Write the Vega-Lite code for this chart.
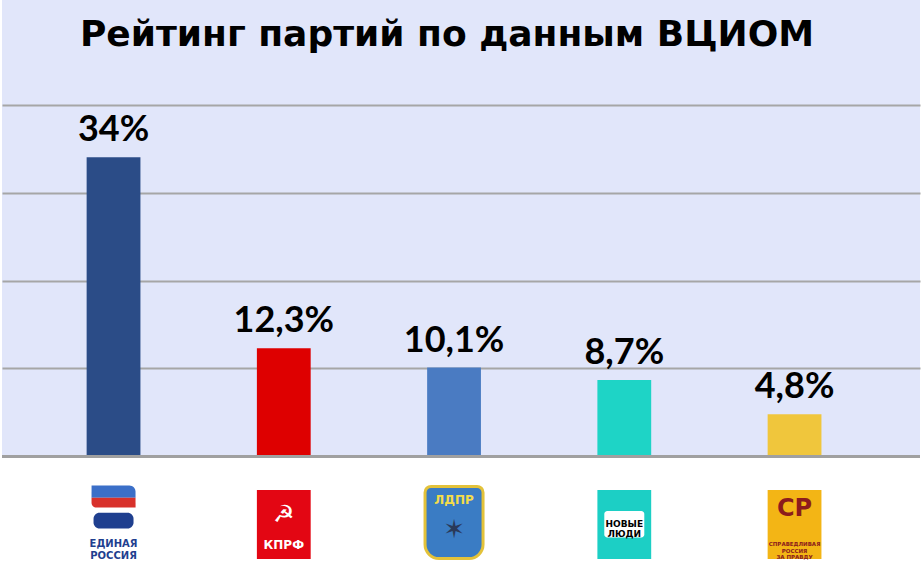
{
  "$schema": "https://vega.github.io/schema/vega-lite/v6.json",
  "width": 922,
  "height": 572,
  "autosize": {"type": "fit", "contains": "padding"},
  "padding": 0,
  "background": "white",
  "config": {
    "view": {"stroke": null, "fill": "#e1e6fa"},
    "locale": {"number": {"decimal": ",", "thousands": " ", "grouping": [3], "currency": ["", " ₽"]}},
    "text": {"lineBreak": "\n"}
  },
  "data": {
    "values": [
      {"party": "Единая Россия", "share": 0.34},
      {"party": "КПРФ", "share": 0.123},
      {"party": "ЛДПР", "share": 0.101},
      {"party": "Новые люди", "share": 0.087},
      {"party": "Справедливая Россия", "share": 0.048}
    ]
  },
  "encoding": {
    "x": {
      "field": "party",
      "type": "nominal",
      "sort": null,
      "scale": {"paddingInner": 0.684, "paddingOuter": 0.538, "align": 0.462},
      "axis": null
    }
  },
  "layer": [
    {
      "mark": {"type": "rect", "fill": "white"},
      "encoding": {
        "x": null,
        "y": {"datum": -0.1313, "type": "quantitative", "scale": {"domain": [-0.1313, 0.5188], "nice": false, "zero": false},
          "axis": {"values": [0.1, 0.2, 0.3, 0.4], "grid": true, "gridColor": "#a6a6a6", "gridWidth": 2, "gridOpacity": 1, "labels": false, "ticks": false, "domain": false, "title": null}},
        "y2": {"datum": 0}
      }
    },
    {
      "mark": {"type": "bar"},
      "encoding": {
        "y": {"field": "share", "type": "quantitative"},
        "y2": {"datum": 0},
        "color": {
          "field": "party",
          "type": "nominal",
          "scale": {
            "domain": ["Единая Россия", "КПРФ", "ЛДПР", "Новые люди", "Справедливая Россия"],
            "range": ["#2b4c87", "#de0000", "#4a7bc2", "#1ed4c6", "#f0c63c"]
          },
          "legend": null
        }
      }
    },
    {
      "mark": {"type": "rule", "color": "#a0a0a0", "strokeWidth": 2.5},
      "encoding": {"x": null, "y": {"datum": 0}}
    },
    {
      "mark": {"type": "text", "font": "Lato", "fontSize": 36, "fontWeight": "bold", "color": "black", "baseline": "alphabetic", "dy": -16},
      "encoding": {
        "y": {"field": "share", "type": "quantitative"},
        "text": {"field": "share", "type": "quantitative", "format": ".3~%"}
      }
    },
    {
      "transform": [{"filter": "datum.party === 'ЛДПР'"}],
      "mark": {"type": "text", "font": "DejaVu Sans", "fontSize": 36, "fontWeight": "bold", "color": "black", "baseline": "alphabetic", "align": "center", "dx": -7},
      "encoding": {
        "y": {"datum": 0.4665},
        "text": {"value": "Рейтинг партий по данным ВЦИОМ"}
      }
    },
    {
      "transform": [{"filter": "datum.party === 'Единая Россия'"}],
      "layer": [
        {"mark": {"type": "bar", "width": 44, "color": "#3b6fc8", "cornerRadiusTopRight": 10}, "encoding": {"y": {"datum": -0.033}, "y2": {"datum": -0.047}}},
        {"mark": {"type": "bar", "width": 44, "color": "#d8312b", "cornerRadiusBottomLeft": 10}, "encoding": {"y": {"datum": -0.047}, "y2": {"datum": -0.058}}},
        {"mark": {"type": "bar", "width": 40, "color": "#1f3f8f", "cornerRadius": 6}, "encoding": {"y": {"datum": -0.064}, "y2": {"datum": -0.082}}},
        {"mark": {"type": "text", "font": "DejaVu Sans", "fontSize": 10, "fontWeight": "bold", "color": "#1f3f8f", "baseline": "middle", "lineHeight": 12},
          "encoding": {"y": {"datum": -0.1}, "text": {"value": "ЕДИНАЯ\nРОССИЯ"}}}
      ]
    },
    {
      "transform": [{"filter": "datum.party === 'КПРФ'"}],
      "layer": [
        {"mark": {"type": "bar", "color": "#e30613"}, "encoding": {"y": {"datum": -0.038}, "y2": {"datum": -0.1165}}},
        {"mark": {"type": "text", "font": "DejaVu Sans", "fontSize": 24, "color": "white", "baseline": "middle"},
          "encoding": {"y": {"datum": -0.066}, "text": {"value": "☭"}}},
        {"mark": {"type": "text", "font": "DejaVu Sans", "fontSize": 12, "fontWeight": "bold", "color": "white", "baseline": "middle"},
          "encoding": {"y": {"datum": -0.101}, "text": {"value": "КПРФ"}}}
      ]
    },
    {
      "transform": [{"filter": "datum.party === 'ЛДПР'"}],
      "layer": [
        {"mark": {"type": "bar", "width": 58, "color": "#3a7cc4", "stroke": "#e3c23a", "strokeWidth": 3, "cornerRadiusBottomLeft": 14, "cornerRadiusBottomRight": 14, "cornerRadiusTopLeft": 6, "cornerRadiusTopRight": 6},
          "encoding": {"y": {"datum": -0.034}, "y2": {"datum": -0.116}}},
        {"mark": {"type": "text", "font": "DejaVu Sans", "fontSize": 12, "fontWeight": "bold", "color": "#f3dc4a", "baseline": "middle"},
          "encoding": {"y": {"datum": -0.05}, "text": {"value": "ЛДПР"}}},
        {"mark": {"type": "text", "font": "DejaVu Sans", "fontSize": 26, "color": "#2a3a5a", "baseline": "middle"},
          "encoding": {"y": {"datum": -0.083}, "text": {"value": "✶"}}}
      ]
    },
    {
      "transform": [{"filter": "datum.party === 'Новые люди'"}],
      "layer": [
        {"mark": {"type": "bar", "color": "#1ccfc5"}, "encoding": {"y": {"datum": -0.038}, "y2": {"datum": -0.1165}}},
        {"mark": {"type": "bar", "width": 40, "color": "white", "cornerRadius": 3}, "encoding": {"y": {"datum": -0.062}, "y2": {"datum": -0.092}}},
        {"mark": {"type": "text", "font": "DejaVu Sans", "fontSize": 9, "fontWeight": "bold", "color": "black", "baseline": "middle", "lineHeight": 10},
          "encoding": {"y": {"datum": -0.077}, "text": {"value": "НОВЫЕ\nЛЮДИ"}}}
      ]
    },
    {
      "transform": [{"filter": "datum.party === 'Справедливая Россия'"}],
      "layer": [
        {"mark": {"type": "bar", "color": "#f3b515"}, "encoding": {"y": {"datum": -0.038}, "y2": {"datum": -0.1165}}},
        {"mark": {"type": "text", "font": "DejaVu Sans", "fontSize": 24, "fontWeight": "bold", "color": "#8c1c1c", "baseline": "middle"},
          "encoding": {"y": {"datum": -0.06}, "text": {"value": "СР"}}},
        {"mark": {"type": "text", "font": "DejaVu Sans", "fontSize": 5.5, "fontWeight": "bold", "color": "#8c1c1c", "baseline": "middle", "lineHeight": 6.5},
          "encoding": {"y": {"datum": -0.1}, "text": {"value": "СПРАВЕДЛИВАЯ\nРОССИЯ\nЗА ПРАВДУ"}}}
      ]
    }
  ]
}
